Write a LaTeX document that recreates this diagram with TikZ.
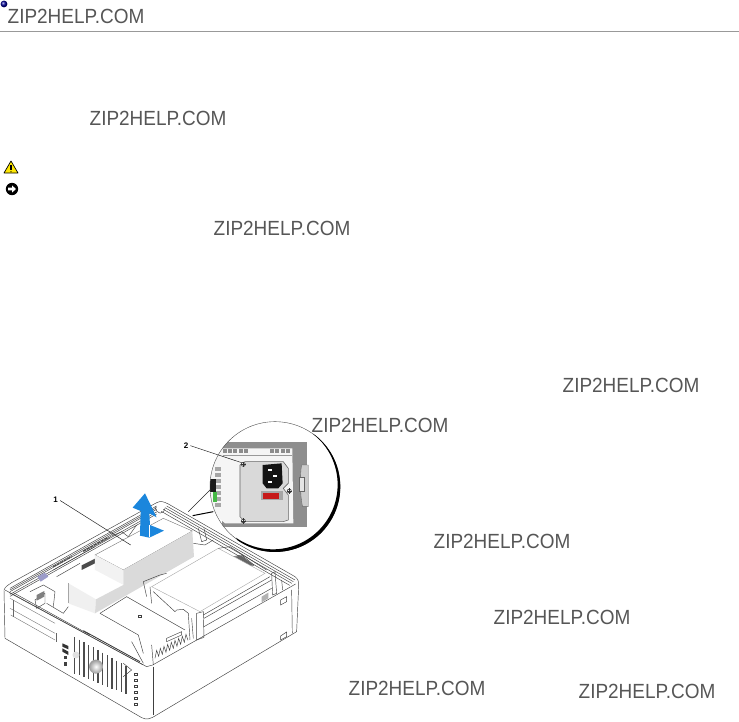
\documentclass[tikz,border=0pt]{standalone}
\usepackage{fontspec}
\setmainfont{Liberation Sans}
\usepackage{tikz}
\usetikzlibrary{calc}
\definecolor{wmgray}{HTML}{565656}
\definecolor{arrowblue}{HTML}{1B86DC}
\definecolor{plate}{HTML}{D9D9D9}
\definecolor{backgray}{HTML}{8E8E8E}
\definecolor{sidegray}{HTML}{DADADA}
\def\width{739}
\def\hauteur{721}
\tikzset{
  wm/.style={text=wmgray, font=\fontsize{20.5}{22}\selectfont, xscale=.925, transform shape, inner sep=0pt},
  numlabel/.style={font=\fontsize{8}{9}\selectfont\bfseries, inner sep=0pt},
  thin line/.style={line width=.45pt, black!75},
  fine line/.style={line width=.35pt, black!60},
  leader/.style={line width=.5pt, black!85},
}
\begin{document}
\begin{tikzpicture}[x=1pt, y=-1pt]
\useasboundingbox (0,0) rectangle (\width,\hauteur);
\fill[white] (0,0) rectangle (\width,\hauteur);
% header
\shade[ball color=blue!60!black] (4,4) circle (3.4pt);
\draw[line width=.6pt, black!40] (0,31) -- (\width,31);
% warning and notice icons
\draw[fill=yellow!90!orange, line width=.7pt, line join=round] (11,161) -- (18,173) -- (4,173) -- cycle;
\draw[line width=1.1pt] (11,165) -- (11,170);
\fill (11,171.8) circle (.6pt);
\fill (12,189) circle (6.2pt);
\fill[white] (8,187.6) -- (12,187.6) -- (12,185.4) -- (16,189) -- (12,192.6) -- (12,190.4) -- (8,190.4) -- cycle;
% computer, coordinates of the 3x crop
\begin{scope}[shift={(0,400)}, x=.3333pt, y=-.3333pt]
% case outline
\draw[thin line, fill=white, line join=round] (12,570) .. controls (15,560) and (25,555) .. (35,548) -- (470,308)
  .. controls (482,302) and (492,305) .. (505,312) -- (885,530) .. controls (895,538) and (897,545) .. (896,560)
  -- (890,695) -- (470,945) .. controls (450,958) and (440,960) .. (425,953) -- (15,715) -- cycle;
\draw[thin line] (15,570) -- (440,800) -- (458,795) -- (887,552);
\draw[thin line] (460,800) -- (460,945);
\draw[thin line] (875,570) -- (877,700);
% rim, back left and back right
\foreach \o in {0,5,10,18,24}{
  \draw[thin line] (30,{565+\o}) -- (470,{318+\o});
}
\foreach \o in {0,5,10,16}{
  \draw[thin line] ({500-\o},{318+\o}) -- ({885-\o},{540+\o});
}
\draw[thin line] (28,578) -- (430,795);
\draw[thin line] (40,578) -- (270,705);
\draw[line width=.8pt, black!80] (250,692) -- (420,785);
% parts inside the case
\draw[thin line] (90,575) -- (130,555) -- (165,575) -- (160,620);
\draw[thin line] (105,600) -- (135,580) -- (135,610) -- (110,625) -- cycle;
\fill[black!50] (110,585) -- (133,573) -- (133,590) -- (110,602) -- cycle;
\fill[blue!30!gray!60] (112,530) -- (135,518) -- (145,530) -- (122,545) -- cycle;
\draw[thin line] (140,610) -- (190,640) -- (205,620);
\draw[thin line] (160,510) -- (285,440);
\draw[thin line] (170,530) -- (240,490);
\fill[black!70] (245,496) -- (285,476) -- (285,490) -- (245,510) -- cycle;
\draw[thin line] (250,455) -- (330,412);
\draw[line width=1.1pt, black!70, dash pattern=on 3pt off 1pt] (250,453) -- (325,412);
\draw[line width=1.1pt, black!70, dash pattern=on 3pt off 1pt] (160,500) -- (215,470);
\draw[thin line] (330,410) -- (365,395) -- (385,410) -- (410,375);
\draw[thin line] (465,320) .. controls (470,345) and (490,345) .. (495,325);
\draw[thin line] (595,385) -- (605,425) -- (620,420) -- (612,385);
\draw[thin line] (580,430) -- (615,435) -- (640,420);
\draw[thin line] (700,470) -- (725,465) -- (762,495) -- (745,505) -- cycle;
\fill[black!60] (705,470) -- (725,467) -- (760,495) -- (745,500) -- cycle;
% power supply
\draw[fine line, fill=white] (285,465) -- (490,355) -- (577,393) -- (370,510) -- cycle;
\fill[black!5] (285,465) -- (370,510) -- (370,555) -- (285,515) -- cycle;
\fill[white] (205,550) -- (285,510) -- (370,555) -- (288,600) -- cycle;
\fill[black!6] (205,550) -- (288,598) -- (285,640) -- (205,610) -- cycle;
\fill[sidegray] (370,510) -- (577,393) -- (582,470) -- (285,640) -- (288,598) -- (370,555) -- cycle;
\draw[fine line, black!35] (205,550) -- (205,610);
% hard drive and bays
\draw[line width=.4pt, black!35, fill=white] (455,560) -- (655,445) -- (795,520) -- (600,635) -- cycle;
\draw[thin line] (655,445) -- (690,440) -- (800,510);
\draw[thin line] (610,645) -- (810,530);
\draw[thin line] (612,655) -- (815,540);
\draw[thin line] (612,680) -- (815,565);
\fill[black!30] (785,590) -- (805,578) -- (805,595) -- (785,607) -- cycle;
\draw[thin line] (590,640) -- (610,635) -- (612,712) -- (590,720) -- cycle;
\draw[thin line] (530,630) -- (550,628) -- (565,640) -- (570,720);
\draw[thin line] (815,520) -- (825,515) -- (830,580) -- (818,585) -- cycle;
\draw[thin line] (845,540) -- (848,570);
\draw[thin line] (430,545) -- (480,525) -- (500,520);
\draw[thin line] (430,545) -- (440,590);
\draw[thin line] (450,560) -- (455,610);
\draw[thin line] (460,575) -- (525,635) -- (530,630);
\draw[thin line] (300,640) -- (380,590) -- (555,690);
\draw[thin line] (300,640) -- (415,705);
\draw[thin line] (415,705) -- (430,760);
\draw[thin line] (395,725) -- (430,790);
\draw[thin line] (455,735) -- (460,795);
\draw[thin line] (500,715) -- (545,695) -- (545,705) -- (500,725) -- cycle;
\draw[thin line] (415,645) rectangle (425,652);
\draw[thin line] (465,775) \foreach \i in {1,...,9}{ -- ++(5,-24) -- ++(6,18) };
\draw[thin line] (575,655) -- (580,715);
% small squares in the side wall
\draw[thin line] (842,600) -- (860,590) -- (860,605) -- (842,615) -- cycle;
\draw[thin line] (842,708) -- (860,696) -- (860,710) -- (842,720) -- cycle;
% front panel
\draw[fine line] (30,595) -- (165,670);
\draw[fine line] (30,625) -- (165,700);
\draw[fine line] (32,645) -- (165,720);
\draw[fine line] (40,600) -- (40,650);
\draw[fine line] (170,700) -- (170,725);
\fill[black!80] (187,730) -- (205,738) -- (205,748) -- (187,740) -- cycle;
\fill[black!80] (187,745) -- (205,755) -- (205,765) -- (187,755) -- cycle;
\fill[black!75] (192,768) rectangle (202,778);
\fill[black!75] (192,787) rectangle (202,797);
% vents
\foreach \vx in {224,238,252,266,280,294,308,322,336,350,364,378}{
  \draw[line width=1.3pt, black!70] (\vx,{710+(\vx-222)*.56}) -- (\vx,{820+(\vx-222)*.4});
}
\fill[black!12] (228,765) circle (3.5pt);
\shade[inner color=white, outer color=black!40] (288,800) circle (7pt);
\foreach \sy in {820,838,856,874,892,910}{
  \draw[thin line] (403,\sy) rectangle (412,{\sy+6});
}
\draw[thin line] (370,790) -- (395,810) -- (370,830);
% blue arrow
\fill[arrowblue] (435,280) -- (398,323) -- (422,333) -- (420,407) -- (448,413) -- (492,392)
  -- (450,375) -- (448,340) -- (470,352) -- cycle;
\draw[white, line width=.5pt] (448,375) -- (448,412);
% inset, with the connectors to the power supply
\coordinate (insetA) at (635,265);
\coordinate (insetB) at (565,335);
\coordinate (insetC) at (640,335);
\coordinate (insetD) at (578,347);
\draw[leader] (insetA) -- (insetB);
\draw[line width=1pt] (insetC) -- (insetD);
\fill[white] (825,260) circle (65pt);
\begin{scope}
\clip (825,260) circle (65pt);
\fill[backgray] (665,125) rectangle (920,380);
\fill[black!4] (630,185) -- (665,145) -- (877,145) -- (880,370) -- (675,370) -- (630,330) -- cycle;
\foreach \vx in {668,684,700,716,732}{ \fill[black!45] (\vx,148) rectangle (\vx+12,160); }
\foreach \vx in {810,826,842,858}{ \fill[black!45] (\vx,148) rectangle (\vx+12,160); }
\draw[line width=1pt, black!40] (668,165) -- (875,165);
\foreach \vy in {200,218,236,254,272,290,308}{ \fill[black!35] (645,\vy) rectangle (664,\vy+13); }
\fill[black!90] (630,238) rectangle (647,275);
\fill[green!45!gray] (640,275) rectangle (652,305);
% plate
\draw[line width=.6pt, black!60, fill=plate] (720,195) -- (735,185) -- (850,185) -- (865,205) -- (865,250)
  -- (850,265) -- (865,285) -- (865,360) -- (850,365) -- (735,365) -- (720,350) -- cycle;
\fill[black!92] (788,195) -- (845,190) -- (848,250) -- (835,265) -- (800,265) -- (788,250) -- cycle;
\fill[white] (803,208) rectangle (815,212);
\fill[white] (818,226) rectangle (832,230);
\fill[white] (803,244) rectangle (815,248);
\fill[black!35] (783,272) rectangle (850,300);
\fill[red!75!black!90] (788,278) rectangle (838,296);
% screws
\foreach \sx/\sy in {730/193,868/273,730/363}{
  \draw[line width=.6pt, black!80, fill=white] (\sx,\sy) circle (2pt);
  \draw[line width=.5pt, black!80] (\sx-8,\sy) -- (\sx+8,\sy) (\sx,\sy-8) -- (\sx,\sy+8);
}
% latch at the right
\draw[fine line, fill=black!20] (905,195) .. controls (900,220) and (900,290) .. (908,320) -- (925,320) -- (925,195) -- cycle;
\draw[fine line, fill=black!10] (897,232) rectangle (912,275);
\end{scope}
% inset ring, thin at top left and thick at bottom right
\draw[line width=.4pt, black!70] (825,260) circle (65pt);
\fill (825,260) ++(-52:196) arc[start angle=-52, end angle=125, radius=196]
  -- ($(819,254)+(125:194)$) arc[start angle=125, end angle=-52, radius=194] -- cycle;
\end{scope}
% part numbers
\node[numlabel] (labPsu) at (55.7,499.5) {1};
\node[numlabel] (labScrew) at (186,445.7) {2};
\coordinate (psuEnd) at (130.7,545);
\coordinate (screwEnd) at (241.7,462.7);
\draw[leader] (labPsu.east) ++(2,1) -- (psuEnd);
\draw[leader] (labScrew.east) ++(2,0) -- (screwEnd);
% watermarks
\foreach \wn/\wx/\wy in {a/76/16.5, b/158/118.5, c/282/228.5, d/631/385.5, e/380/425.5, f/502/541.5, g/562/617.5, h/417/688.5, i/647/691.5}{
  \node[wm] (wm\wn) at (\wx,\wy) {ZIP2HELP.COM};
}
\end{tikzpicture}
\end{document}
